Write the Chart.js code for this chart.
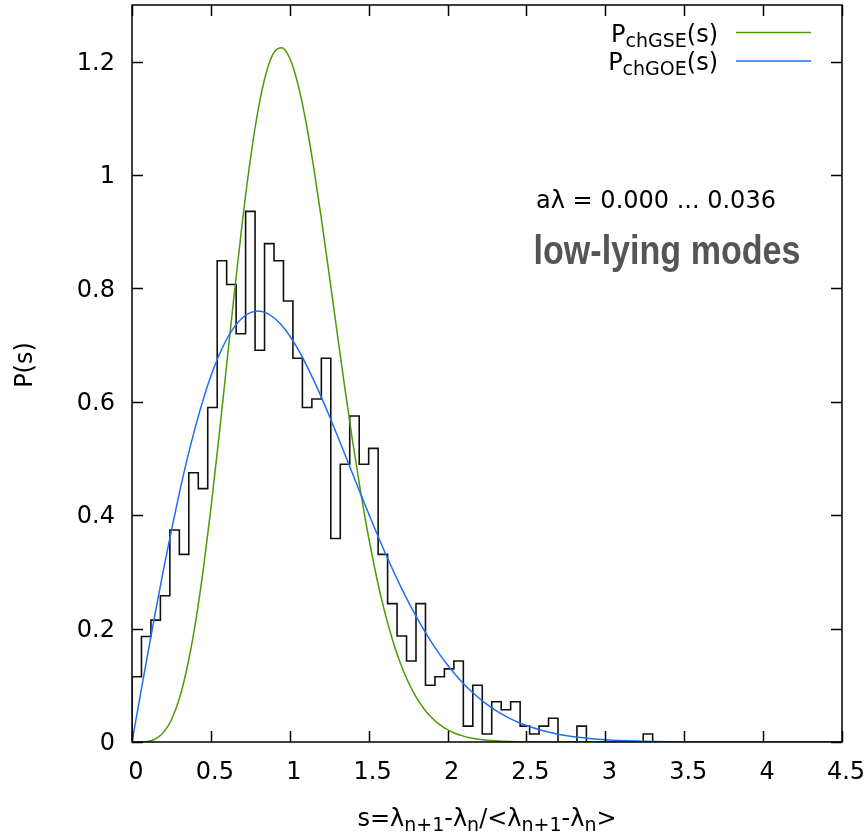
<!DOCTYPE html>
<html>
<head>
<meta charset="utf-8">
<script src="https://cdn.jsdelivr.net/npm/chart.js@4"></script>
<style>
html,body{margin:0;padding:0;background:#fff;}
#wrap{width:865px;height:833px;position:relative;}
</style>
</head>
<body>
<div id="wrap"><canvas id="c"></canvas></div>
<script>
// ---- Data ----
const xTicks = [0, 0.5, 1, 1.5, 2, 2.5, 3, 3.5, 4, 4.5];
const xTickLabels = ['0', '0.5', '1', '1.5', '2', '2.5', '3', '3.5', '4', '4.5'];
const yTicks = [0, 0.2, 0.4, 0.6, 0.8, 1.0, 1.2];
const yTickLabels = ['0', '0.2', '0.4', '0.6', '0.8', '1', '1.2'];

// histogram: left bin edges and bin heights, last edge closes the final bin
const histEdges = [0.00, 0.06, 0.12, 0.18, 0.24, 0.30, 0.36, 0.42, 0.48, 0.54,
  0.60, 0.66, 0.72, 0.78, 0.84, 0.90, 0.96, 1.02, 1.08, 1.14,
  1.20, 1.26, 1.32, 1.38, 1.44, 1.50, 1.56, 1.62, 1.68, 1.74,
  1.80, 1.86, 1.92, 1.98, 2.04, 2.10, 2.16, 2.22, 2.28, 2.34,
  2.40, 2.46, 2.52, 2.58, 2.64, 2.70, 2.76, 2.82, 2.88, 2.94,
  3.00, 3.06, 3.12, 3.18, 3.24, 3.30];
const histValues = [0.115, 0.186, 0.215, 0.258, 0.374, 0.331, 0.475, 0.447, 0.590, 0.849,
  0.807, 0.720, 0.936, 0.691, 0.879, 0.849, 0.778, 0.677, 0.590, 0.605,
  0.677, 0.359, 0.490, 0.575, 0.490, 0.518, 0.331, 0.244, 0.187, 0.143,
  0.244, 0.100, 0.115, 0.129, 0.143, 0.028, 0.100, 0.014, 0.071, 0.057,
  0.071, 0.028, 0.014, 0.028, 0.042, 0, 0, 0.028, 0, 0,
  0, 0, 0, 0, 0.014];

// smooth curves, sampled along s
const curveS = [0, 0.05, 0.1, 0.15, 0.2, 0.25, 0.3, 0.35, 0.4, 0.45,
  0.5, 0.55, 0.6, 0.65, 0.7, 0.75, 0.8, 0.85, 0.9, 0.95,
  1.0, 1.05, 1.1, 1.15, 1.2, 1.25, 1.3, 1.35, 1.4, 1.45,
  1.5, 1.55, 1.6, 1.65, 1.7, 1.75, 1.8, 1.85, 1.9, 1.95,
  2.0, 2.05, 2.1, 2.15, 2.2, 2.25, 2.3, 2.35, 2.4, 2.45,
  2.5, 2.6, 2.7, 2.8, 2.9, 3.0, 3.2, 3.4, 3.6, 3.8, 4.0, 4.5];
const goeValues = [0, 0.0784, 0.1559, 0.2315, 0.3044, 0.3739, 0.4391, 0.4994, 0.5541, 0.6029,
  0.6454, 0.6812, 0.7104, 0.7327, 0.7483, 0.7574, 0.7602, 0.7570, 0.7483, 0.7345,
  0.7162, 0.6938, 0.6680, 0.6393, 0.6083, 0.5756, 0.5416, 0.5068, 0.4717, 0.4369,
  0.4025, 0.3690, 0.3365, 0.3055, 0.2759, 0.2481, 0.2220, 0.1977, 0.1752, 0.1546,
  0.1358, 0.1187, 0.1033, 0.0895, 0.0772, 0.0663, 0.0567, 0.0483, 0.0409, 0.0345,
  0.0290, 0.0202, 0.0138, 0.0093, 0.0062, 0.0040, 0.0016, 0.0006, 0.0002, 0.0001, 0, 0];
const gseValues = [0, 0.0001, 0.0011, 0.0056, 0.0170, 0.0393, 0.0766, 0.1319, 0.2067, 0.3007,
  0.4116, 0.5351, 0.6654, 0.7956, 0.9185, 1.0272, 1.1158, 1.1797, 1.2164, 1.2248,
  1.2060, 1.1623, 1.0976, 1.0164, 0.9237, 0.8241, 0.7224, 0.6225, 0.5274, 0.4396,
  0.3605, 0.2911, 0.2314, 0.1813, 0.1397, 0.1062, 0.0795, 0.0587, 0.0427, 0.0307,
  0.0217, 0.0151, 0.0104, 0.0071, 0.0047, 0.0031, 0.0020, 0.0013, 0.0008, 0.0005,
  0.0003, 0.0001, 0, 0, 0, 0, 0, 0, 0, 0, 0, 0];

const seriesMain = ['P', 'P'];
const seriesSub = ['chGSE', 'chGOE'];
const seriesTail = ['(s)', '(s)'];
const yTitle = 'P(s)';
// x title pieces: [text, isSubscript]
const xTitleParts = [['s=λ', 0], ['n+1', 1], ['-λ', 0], ['n', 1], ['/<λ', 0], ['n+1', 1], ['-λ', 0], ['n', 1], ['>', 0]];
const noteRange = 'aλ = 0.000 ... 0.036';
const noteModes = 'low-lying modes';

// ---- build datasets ----
const histData = [{x: histEdges[0], y: 0}];
for (let i = 0; i < histValues.length; i++) histData.push({x: histEdges[i], y: histValues[i]});
histData.push({x: histEdges[histEdges.length - 1], y: 0});
const goeData = curveS.map((s, i) => ({x: s, y: goeValues[i]}));
const gseData = curveS.map((s, i) => ({x: s, y: gseValues[i]}));

const GREEN = '#4c9a06';
const BLUE = '#1f6ff0';
const FONT = "'DejaVu Sans', sans-serif";

function drawParts(ctx, parts, x, baseline, align) {
  const big = 24, small = 19, subDy = 5;
  let total = 0;
  const widths = parts.map(p => {
    ctx.font = (p[1] ? small : big) + 'px ' + FONT;
    const w = ctx.measureText(p[0]).width;
    total += w;
    return w;
  });
  let cx = align === 'right' ? x - total : (align === 'center' ? x - total / 2 : x);
  ctx.textAlign = 'left';
  ctx.textBaseline = 'alphabetic';
  parts.forEach((p, i) => {
    ctx.font = (p[1] ? small : big) + 'px ' + FONT;
    ctx.fillText(p[0], cx, baseline + (p[1] ? subDy : 0));
    cx += widths[i];
  });
}

const decor = {
  id: 'decor',
  afterDatasetsDraw(chart) {
    const ctx = chart.ctx;
    const a = chart.chartArea;
    const xs = chart.scales.x, ys = chart.scales.y;
    ctx.save();
    ctx.strokeStyle = '#000';
    ctx.lineWidth = 1.5;
    ctx.beginPath();
    const tl = 11;
    xTicks.forEach(v => {
      const px = Math.round(xs.getPixelForValue(v)) + 0.5;
      ctx.moveTo(px, a.bottom); ctx.lineTo(px, a.bottom - tl);
      ctx.moveTo(px, a.top); ctx.lineTo(px, a.top + tl);
    });
    yTicks.forEach(v => {
      const py = Math.round(ys.getPixelForValue(v)) + 0.5;
      ctx.moveTo(a.left, py); ctx.lineTo(a.left + tl, py);
      ctx.moveTo(a.right, py); ctx.lineTo(a.right - tl, py);
    });
    ctx.stroke();
    ctx.strokeRect(a.left, a.top, a.right - a.left, a.bottom - a.top);

    ctx.fillStyle = '#000';
    const legendColors = [GREEN, BLUE];
    const legendY = [32.5, 61];
    for (let i = 0; i < seriesMain.length; i++) {
      drawParts(ctx, [[seriesMain[i], 0], [seriesSub[i], 1], [seriesTail[i], 0]], 718, legendY[i] + 9, 'right');
      ctx.strokeStyle = legendColors[i];
      ctx.lineWidth = 1.5;
      ctx.beginPath();
      ctx.moveTo(736, legendY[i]); ctx.lineTo(811, legendY[i]);
      ctx.stroke();
    }
    ctx.fillStyle = '#000';
    ctx.font = '24px ' + FONT;
    ctx.textAlign = 'center';
    ctx.textBaseline = 'alphabetic';
    ctx.fillText(noteRange, 656, 208);

    // bold narrow heading, fitted to the width seen in the reference
    ctx.save();
    ctx.fillStyle = '#555555';
    ctx.font = "bold 41px 'Liberation Sans Narrow', 'Liberation Sans', Arial, sans-serif";
    const w = ctx.measureText(noteModes).width;
    const sx = Math.min(1, 267 / w);
    ctx.translate(667, 264);
    ctx.scale(sx, 1);
    ctx.textAlign = 'center';
    ctx.fillText(noteModes, 0, 0);
    ctx.restore();

    ctx.fillStyle = '#000';
    drawParts(ctx, xTitleParts, 487, 826, 'center');
    ctx.save();
    ctx.translate(32, 365);
    ctx.rotate(-Math.PI / 2);
    ctx.font = '24px ' + FONT;
    ctx.textAlign = 'center';
    ctx.textBaseline = 'alphabetic';
    ctx.fillText(yTitle, 0, 0);
    ctx.restore();
    ctx.restore();
  }
};

function zeroPad(s) { s.paddingTop = 0; s.paddingBottom = 0; s.paddingLeft = 0; s.paddingRight = 0; }

new Chart(document.getElementById('c'), {
  type: 'line',
  data: {
    datasets: [
      {label: 'hist', data: histData, stepped: 'before', borderColor: '#111', borderWidth: 1.6,
       pointRadius: 0, fill: false, order: 3},
      {label: 'PchGSE(s)', data: gseData, borderColor: GREEN, borderWidth: 1.5, pointRadius: 0,
       cubicInterpolationMode: 'monotone', fill: false, order: 1},
      {label: 'PchGOE(s)', data: goeData, borderColor: BLUE, borderWidth: 1.5, pointRadius: 0,
       cubicInterpolationMode: 'monotone', fill: false, order: 0}
    ]
  },
  options: {
    responsive: true,
    maintainAspectRatio: false,
    animation: false,
    devicePixelRatio: 1,
    layout: {padding: {left: 0, top: 5, right: 23, bottom: 0}},
    plugins: {legend: {display: false}, tooltip: {enabled: false}},
    scales: {
      x: {
        type: 'linear', min: 0, max: 4.5,
        afterBuildTicks: s => { s.ticks = xTicks.map(v => ({value: v})); },
        afterFit: s => { s.height = 91; zeroPad(s); },
        grid: {display: false, drawTicks: false},
        border: {display: false},
        ticks: {
          font: {family: 'DejaVu Sans', size: 24}, color: '#000', padding: 16,
          maxRotation: 0, autoSkip: false, labelOffset: 4,
          callback: (v, i) => xTickLabels[i]
        }
      },
      y: {
        type: 'linear', min: 0, max: 1.3,
        afterBuildTicks: s => { s.ticks = yTicks.map(v => ({value: v})); },
        afterFit: s => { s.width = 132; zeroPad(s); },
        grid: {display: false, drawTicks: false},
        border: {display: false},
        ticks: {
          font: {family: 'DejaVu Sans', size: 24}, color: '#000', padding: 17,
          autoSkip: false, labelOffset: 2,
          callback: (v, i) => yTickLabels[i]
        }
      }
    }
  },
  plugins: [decor]
});
</script>
</body>
</html>
